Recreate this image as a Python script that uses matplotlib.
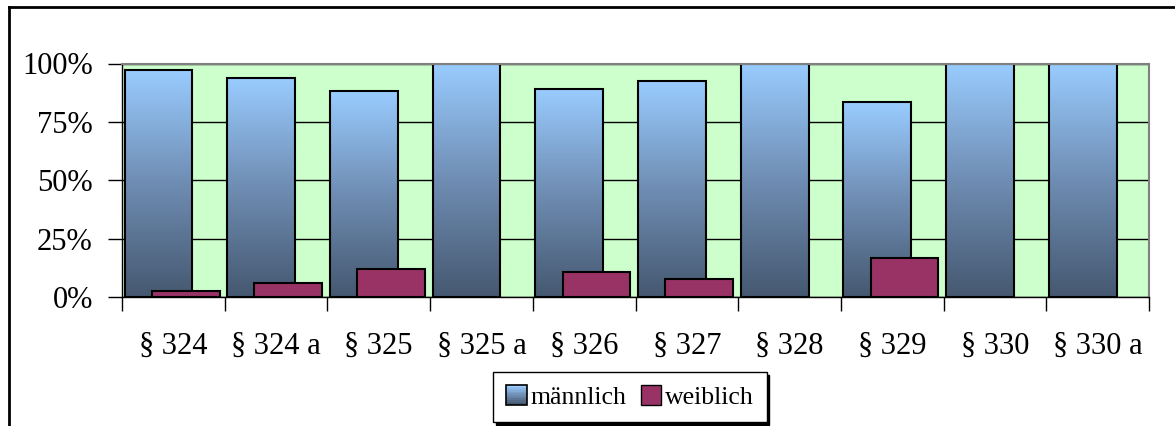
import numpy as np
import matplotlib
matplotlib.use("Agg")
import matplotlib.pyplot as plt
from matplotlib.colors import LinearSegmentedColormap
from matplotlib.patches import Rectangle, Patch
from matplotlib.legend_handler import HandlerBase
from matplotlib.lines import Line2D

# Daten
paragraphen = ["§ 324", "§ 324 a", "§ 325", "§ 325 a", "§ 326",
               "§ 327", "§ 328", "§ 329", "§ 330", "§ 330 a"]
maennlich = [97.4, 94.0, 88.2, 100, 89.1, 92.5, 100, 83.5, 100, 100]
weiblich = [2.6, 6.0, 11.8, 0, 10.9, 7.5, 0, 16.5, 0, 0]

plt.rcParams['font.family'] = ['Liberation Serif', 'DejaVu Serif']

blau_cmap = LinearSegmentedColormap.from_list("blau", ["#455870", "#6F8DB3", "#99CCFF"])
rot = "#993366"


class GradientHandler(HandlerBase):
    def create_artists(self, legend, orig_handle, xdescent, ydescent,
                       width, height, fontsize, trans):
        n = 12
        out = []
        for k in range(n):
            r = Rectangle((-xdescent, -ydescent + k * height / n), width, height / n,
                          facecolor=blau_cmap(k / (n - 1)), edgecolor='none', transform=trans)
            out.append(r)
        out.append(Rectangle((-xdescent, -ydescent), width, height, facecolor='none',
                             edgecolor='black', lw=1.2, transform=trans))
        return out


fig = plt.figure(figsize=(11.75, 4.26), dpi=100)
ax = fig.add_axes([122 / 1175, 129 / 426, 1027 / 1175, 233.5 / 426])
ax.set_facecolor("#CCFFCC")

x = np.arange(len(paragraphen))
breite = 0.66
gradient = np.linspace(0, 1, 256).reshape(-1, 1)

for i, h in enumerate(maennlich):
    x0 = x[i] + 0.025
    ax.imshow(gradient, extent=[x0, x0 + breite, 0, h], origin='lower',
              cmap=blau_cmap, aspect='auto', zorder=2, interpolation='bilinear')
ax.bar(x + 0.025, maennlich, width=breite, align='edge', facecolor='none',
       edgecolor='black', linewidth=1.5, zorder=2.5)

w = np.array(weiblich)
nz = w > 0
ax.bar(x[nz] + 0.29, w[nz], width=breite, align='edge', color=rot,
       edgecolor='black', linewidth=1.5, zorder=3)

ax.set_xlim(0, len(paragraphen))
ax.set_ylim(0, 100)
ax.set_yticks([0, 25, 50, 75, 100])
ax.set_yticklabels(["0%", "25%", "50%", "75%", "100%"])
ax.yaxis.grid(True, color='black', linewidth=1)
ax.set_axisbelow(True)

ax.set_xticks(np.arange(len(paragraphen) + 1))
ax.set_xticklabels([])
ax.set_xticks(x + 0.5, minor=True)
ax.set_xticklabels(paragraphen, minor=True)
ax.tick_params(axis='x', which='minor', length=0, pad=25, labelsize=22)
ax.tick_params(axis='x', which='major', direction='out', length=10, width=1)
ax.tick_params(axis='y', direction='out', length=10, width=1, pad=11, labelsize=22)

for s in ['top', 'right']:
    ax.spines[s].set_color('#808080')
    ax.spines[s].set_linewidth(1.5)
for s in ['left', 'bottom']:
    ax.spines[s].set_color('black')
    ax.spines[s].set_linewidth(1)

handles = [Patch(label='männlich'), Patch(facecolor=rot, edgecolor='black', label='weiblich')]
fig.legend(handles=handles, labels=['männlich', 'weiblich'],
           handler_map={handles[0]: GradientHandler()},
           loc='center', bbox_to_anchor=(630 / 1175, 1 - 397 / 426), ncol=2,
           fontsize=18.5, frameon=True, fancybox=False, edgecolor='black',
           framealpha=1, shadow={'color': 'black', 'alpha': 1},
           handlelength=0.8, handleheight=0.8, handletextpad=0.15,
           columnspacing=0.55, borderpad=0.5, borderaxespad=0)

# Rahmen
fig.add_artist(Line2D([9 / 1175, 1], [1 - 7 / 426] * 2, transform=fig.transFigure,
                      color='black', lw=2))
fig.add_artist(Line2D([9 / 1175] * 2, [0, 1 - 7 / 426], transform=fig.transFigure,
                      color='black', lw=2))

fig.savefig("out.png", dpi=100)
